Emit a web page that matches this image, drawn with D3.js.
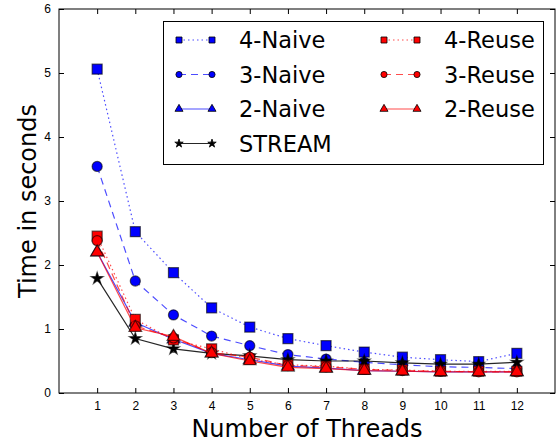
<!DOCTYPE html>
<html>
<head>
<meta charset="utf-8">
<script src="https://cdn.jsdelivr.net/npm/d3@7"></script>
<style>
  body { margin: 0; background: #fff; }
  svg { display: block; font-family: "DejaVu Sans", sans-serif; }
</style>
</head>
<body>
<div id="chart"></div>
<script>
// threads on the x axis
const threads = [1, 2, 3, 4, 5, 6, 7, 8, 9, 10, 11, 12];

// times in seconds
const naive4 = [5.06, 2.52, 1.88, 1.33, 1.03, 0.85, 0.74, 0.64, 0.56, 0.52, 0.49, 0.62];
const naive3 = [3.54, 1.75, 1.22, 0.89, 0.74, 0.60, 0.53, 0.48, 0.44, 0.41, 0.40, 0.38];
const naive2 = [2.20, 1.10, 0.84, 0.62, 0.52, 0.42, 0.39, 0.35, 0.34, 0.33, 0.33, 0.33];
const stream = [1.79, 0.85, 0.69, 0.62, 0.58, 0.52, 0.50, 0.50, 0.47, 0.45, 0.45, 0.48];
const reuse4 = [2.45, 1.15, 0.83, 0.69, 0.53, 0.44, 0.42, 0.37, 0.36, 0.34, 0.34, 0.34];
const reuse3 = [2.38, 1.05, 0.86, 0.63, 0.56, 0.43, 0.41, 0.37, 0.35, 0.34, 0.33, 0.33];
const reuse2 = [2.20, 1.02, 0.88, 0.62, 0.50, 0.40, 0.38, 0.35, 0.34, 0.33, 0.33, 0.33];

const seriesNames = ["4-Naive", "3-Naive", "2-Naive", "STREAM", "4-Reuse", "3-Reuse", "2-Reuse"];
const yTicks = [0, 1, 2, 3, 4, 5, 6];

const series = [
  { name: seriesNames[0], values: naive4, color: "#0000ff", dash: "1.5,3", marker: "square" },
  { name: seriesNames[1], values: naive3, color: "#0000ff", dash: "7,5", marker: "circle" },
  { name: seriesNames[2], values: naive2, color: "#0000ff", dash: null, marker: "triangle" },
  { name: seriesNames[3], values: stream, color: "#000000", dash: null, marker: "star" },
  { name: seriesNames[4], values: reuse4, color: "#ff0000", dash: "1.5,3", marker: "square" },
  { name: seriesNames[5], values: reuse3, color: "#ff0000", dash: "7,5", marker: "circle" },
  { name: seriesNames[6], values: reuse2, color: "#ff0000", dash: null, marker: "triangle" }
];

const width = 560, height = 446;
const margin = { top: 9, right: 5, bottom: 53, left: 59 };

const svg = d3.select("#chart").append("svg")
  .attr("width", width)
  .attr("height", height);

const x = d3.scaleLinear().domain([0, 13]).range([margin.left, width - margin.right]);
const y = d3.scaleLinear().domain([0, 6]).range([height - margin.bottom, margin.top]);

// ticks pointing inwards on all four sides
svg.append("g")
  .attr("transform", `translate(0,${y(0)})`)
  .call(d3.axisBottom(x).tickValues(threads).tickSizeInner(-5).tickSizeOuter(0).tickPadding(8))
  .call(g => g.select(".domain").remove())
  .call(g => g.selectAll("text").attr("font-size", 12).attr("fill", "#000"));

svg.append("g")
  .attr("transform", `translate(0,${y(6)})`)
  .call(d3.axisTop(x).tickValues(threads).tickSizeInner(-5).tickSizeOuter(0).tickFormat(""))
  .call(g => g.select(".domain").remove());

svg.append("g")
  .attr("transform", `translate(${x(0)},0)`)
  .call(d3.axisLeft(y).tickValues(yTicks).tickFormat(d3.format("d")).tickSizeInner(-5).tickSizeOuter(0).tickPadding(8))
  .call(g => g.select(".domain").remove())
  .call(g => g.selectAll("text").attr("font-size", 12).attr("fill", "#000"));

svg.append("g")
  .attr("transform", `translate(${x(13)},0)`)
  .call(d3.axisRight(y).tickValues(yTicks).tickSizeInner(-5).tickSizeOuter(0).tickFormat(""))
  .call(g => g.select(".domain").remove());

svg.append("rect")
  .attr("x", x(0)).attr("y", y(6))
  .attr("width", x(13) - x(0)).attr("height", y(0) - y(6))
  .attr("fill", "none").attr("stroke", "#000").attr("stroke-width", 1);

// axis titles
svg.append("text")
  .attr("x", (x(0) + x(13)) / 2).attr("y", 437)
  .attr("text-anchor", "middle").attr("font-size", 24)
  .text("Number of Threads");

svg.append("text")
  .attr("transform", `translate(36,${(y(0) + y(6)) / 2}) rotate(-90)`)
  .attr("text-anchor", "middle").attr("font-size", 24)
  .text("Time in seconds");

const symbols = {
  square: d3.symbolSquare,
  circle: d3.symbolCircle,
  triangle: d3.symbolTriangle,
  star: d3.symbolStar
};
const markerSize = { square: 100, circle: 80, triangle: 70, star: 45 };

const line = d3.line().x((d, i) => x(threads[i])).y(d => y(d));

const plot = svg.append("g");
series.forEach(s => {
  const g = plot.append("g");
  g.append("path")
    .attr("d", line(s.values))
    .attr("fill", "none")
    .attr("stroke", s.color)
    .attr("stroke-opacity", s.color === "#000000" ? 0.85 : 0.7)
    .attr("stroke-width", 1.2)
    .attr("stroke-dasharray", s.dash);
  g.selectAll("path.pt")
    .data(s.values)
    .join("path")
    .attr("class", "pt")
    .attr("transform", (d, i) => `translate(${x(threads[i])},${y(d)})`)
    .attr("d", d3.symbol(symbols[s.marker], markerSize[s.marker]))
    .attr("fill", s.color)
    .attr("stroke", "#000")
    .attr("stroke-opacity", 0.6)
    .attr("stroke-width", 1.2);
});

// legend
const legend = svg.append("g");
legend.append("rect")
  .attr("x", 163.5).attr("y", 21.5)
  .attr("width", 380).attr("height", 143)
  .attr("fill", "#fff").attr("stroke", "#000").attr("stroke-width", 1);

const legendSize = { square: 36, circle: 30, triangle: 28, star: 22 };
series.forEach((s, i) => {
  const col = i < 4 ? 0 : 1;
  const row = i < 4 ? i : i - 4;
  const x0 = col === 0 ? 179 : 384;
  const yy = 40 + row * 34.5;
  const g = legend.append("g");
  g.append("line")
    .attr("x1", x0).attr("x2", x0 + 33)
    .attr("y1", yy).attr("y2", yy)
    .attr("stroke", s.color)
    .attr("stroke-opacity", s.color === "#000000" ? 0.85 : 0.7)
    .attr("stroke-width", 1.2)
    .attr("stroke-dasharray", s.dash);
  [x0, x0 + 33].forEach(px => {
    g.append("path")
      .attr("transform", `translate(${px},${yy})`)
      .attr("d", d3.symbol(symbols[s.marker], legendSize[s.marker]))
      .attr("fill", s.color)
      .attr("stroke", "#000")
      .attr("stroke-width", 0.8);
  });
  g.append("text")
    .attr("x", x0 + 60).attr("y", yy)
    .attr("dy", "0.36em")
    .attr("font-size", 22.5)
    .text(s.name);
});
</script>
</body>
</html>
